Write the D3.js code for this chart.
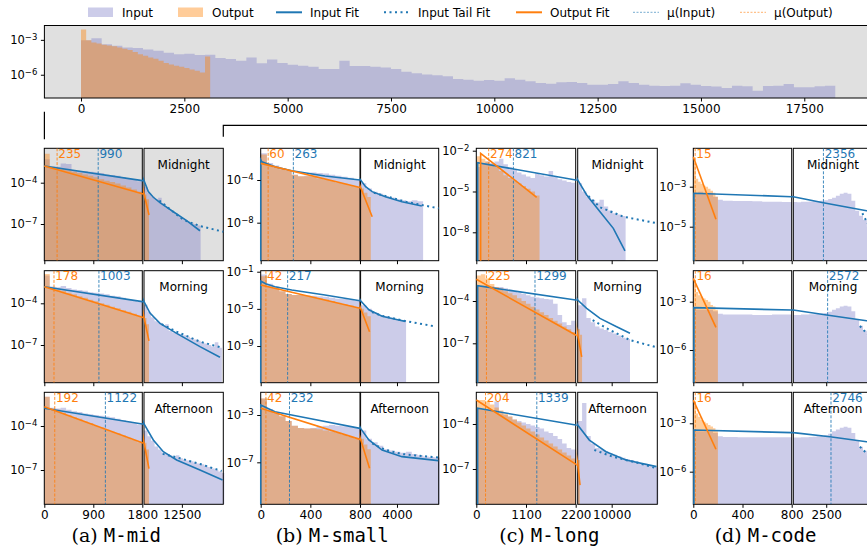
<!DOCTYPE html>
<html>
<head>
<meta charset="utf-8">
<script src="https://cdn.jsdelivr.net/npm/d3@7"></script>
<style>
  body { margin: 0; background: #fff; }
  svg text { font-family: "DejaVu Sans", sans-serif; }
</style>
</head>
<body>
<svg id="chart" width="867" height="550"></svg>
<script>
// ---- top panel: all requests (log10 density), input bins 250 wide, output bins 125 wide ----
const topIn = [-3.04,-2.87,-3.37,-3.51,-3.65,-3.71,-3.82,-3.94,-4.11,-4.23,
  -4.20,-4.31,-4.28,-4.57,-4.65,-4.80,-4.51,-5.02,-4.68,-5.00,
  -5.14,-5.22,-5.31,-5.51,-5.51,-4.80,-5.25,-5.25,-5.31,-5.37,
  -5.51,-5.74,-5.88,-5.99,-6.05,-6.14,-6.37,-6.42,-6.51,-6.45,
  -6.51,-6.31,-6.42,-6.57,-6.71,-6.77,-6.65,-6.62,-6.71,-6.85,
  -6.85,-6.80,-6.57,-6.71,-6.85,-6.94,-6.97,-6.94,-6.74,-6.85,
  -6.97,-7.02,-7.14,-6.94,-7.00,-7.37,-6.97,-6.94,-6.80,-7.08,
  -7.08,-7.00,-6.94];
const topOut = [-2.1,-3.04,-3.22,-3.31,-3.42,-3.48,-3.54,-3.65,-3.77,-3.88,
  -4.05,-4.23,-4.37,-4.51,-4.62,-4.80,-5.00,-5.11,-5.22,-5.31,
  -5.42,-5.54,-5.66,-5.80,-4.43];
const topTicks = [0, 2500, 5000, 7500, 10000, 12500, 15000, 17500];

// ---- columns / rows ----
const colTags = ["(a)", "(b)", "(c)", "(d)"];
const colNames = ["M-mid", "M-small", "M-long", "M-code"];
const rowNames = ["Midnight", "Morning", "Afternoon"];
const leftMax = [1800, 800, 2200, 800];
const rightMax = [24200, 7670, 20470, 4900];
const leftTicks = [[0, 900, 1800], [0, 400, 800], [0, 1100, 2200], [0, 400, 800]];
const rightTicks = [[12500], [4000], [10000], [2500]];
const binInL = [100, 50, 100, 40];
const binOutL = [100, 50, 100, 20];
const binInR = [1000, 500, 1000, 200];
const binOutR = [700, 300, 500, 200];

// ---- M-mid ----
const midY = [[-9.665, -1.502], [-9.712, -1.655], [-9.337, -1.703]];
const midYTicks = [[-4, -7], [-4, -7], [-4, -7]];
const midInL = [
  [-2.3,-2.85,-2.85,-2.6,-2.65,-3.1,-3.15,-3.15,-3.2,-3.25,-3.3,-3.4,-3.45,-3.5,-3.6,-3.7,-3.8,-3.9],
  [-2.0,-2.8,-2.85,-2.75,-2.9,-3.0,-3.05,-3.1,-3.2,-3.25,-3.3,-3.35,-3.45,-3.5,-3.6,-3.7,-3.8,-3.9],
  [-2.0,-2.75,-2.8,-2.75,-2.9,-3.0,-3.05,-3.15,-3.2,-3.25,-3.3,-3.35,-3.4,-3.5,-3.6,-3.7,-3.8,-3.9]];
const midOutL = [
  [-1.9,-2.85,-2.95,-3.0,-3.1,-3.2,-3.3,-3.4,-3.5,-3.6,-3.75,-3.85,-3.95,-4.05,-4.2,-4.35,-4.5,-4.65],
  [-1.9,-2.9,-3.0,-3.1,-3.25,-3.35,-3.5,-3.6,-3.75,-3.85,-4.0,-4.1,-4.25,-4.35,-4.5,-4.6,-4.75,-4.9],
  [-2.0,-2.8,-2.9,-3.1,-3.25,-3.4,-3.5,-3.7,-3.8,-4.0,-4.1,-4.25,-4.4,-4.5,-4.65,-4.8,-4.95,-5.1]];
const midInR = [
  [-4.3,-4.75,-5.0,-5.2,-5.1,-5.5,-5.8,-6.0,-6.2,-6.35,-6.5,-6.65,-6.8,-6.9,-7.0,-7.1],
  [-4.1,-4.6,-5.0,-5.3,-5.4,-5.6,-5.5,-6.0,-6.1,-6.15,-6.2,-6.3,-6.4,-6.5,-6.6,-6.7,-6.8,-6.9,-7.0,-7.1,-6.8,-7.2],
  [-4.3,-4.7,-5.0,-5.4,-5.6,-5.8,-5.9,-6.0,-6.1,-6.0,-6.2,-6.3,-6.35,-6.4,-6.5,-6.55,-6.6,-6.7,-6.8,-6.9,-7.0,-7.1,-7.2]];
const midOutR = [[-4.85, -5.2], [-5.05, -5.5], [-5.15, -5.6]];
const midFitIn = [
  [[0,-2.79],[1800,-3.85],[3023,-4.65],[4435,-5.06],[6317,-5.45],[10081,-6.11],[13845,-6.75],[17610,-7.49]],
  [[0,-2.81],[1800,-3.88],[3500,-4.7],[6317,-5.44],[11022,-6.16],[17610,-7.12],[23255,-7.88]],
  [[0,-2.79],[1800,-3.86],[4435,-4.95],[7258,-5.75],[11022,-6.32],[17610,-7.0],[24000,-7.68]]];
const midTail = [
  [[6130,-5.3],[12900,-6.7],[17610,-7.15],[24200,-7.56]],
  [[6787,-5.5],[11022,-6.04],[17610,-6.76],[23725,-7.19]],
  [[7070,-5.9],[11963,-6.2],[17610,-6.59],[23725,-7.07]]];
const midFitOut = [
  [[0,-2.79],[1800,-4.8],[3212,-6.35]],
  [[0,-2.81],[1800,-5.01],[3200,-6.7]],
  [[0,-2.68],[1800,-5.14],[3200,-6.9]]];
const midMuIn = [990, 1003, 1122];
const midMuOut = [235, 178, 192];

// ---- M-small ----
const smallY = [[-11.563, -1.029], [-12.948, -0.892], [-10.549, -1.081]];
const smallYTicks = [[-4, -8], [-1, -5, -9], [-3, -7]];
const smallInL = [
  [-1.5,-2.4,-2.65,-2.9,-3.1,-3.5,-3.65,-3.6,-3.3,-3.35,-3.4,-3.5,-3.6,-3.7,-3.8,-3.95],
  [-1.3,-2.3,-2.6,-3.1,-3.4,-3.5,-3.5,-3.55,-3.6,-3.65,-3.7,-3.8,-3.9,-3.95,-4.0,-4.1],
  [-1.6,-2.5,-2.8,-3.1,-3.5,-3.9,-4.1,-4.15,-4.1,-4.0,-3.9,-3.85,-3.9,-3.95,-4.0,-4.1]];
const smallOutL = [
  [-1.6,-2.6,-2.85,-3.0,-3.15,-3.5,-3.65,-3.65,-3.7,-3.85,-3.95,-4.1,-4.25,-4.35,-4.5,-4.65],
  [-1.5,-2.6,-2.75,-3.1,-3.4,-3.5,-3.5,-3.6,-3.7,-3.85,-4.0,-4.15,-4.35,-4.5,-4.65,-4.8],
  [-1.6,-2.6,-2.85,-3.1,-3.5,-3.9,-4.1,-4.15,-4.15,-4.2,-4.3,-4.4,-4.5,-4.7,-4.85,-5.0]];
const smallInR = [
  [-4.3,-4.8,-5.1,-5.3,-5.5,-5.65,-5.8,-5.9,-6.0,-5.9,-6.0],
  [-4.6,-5.0,-5.4,-5.7,-5.8,-5.95,-6.1,-6.2],
  [-4.3,-5.0,-5.3,-5.6,-5.9,-6.0,-6.1,-6.2,-6.1,-6.3,-6.4,-6.5,-6.55,-6.6]];
const smallOutR = [[-4.8, -5.2, -5.6], [-5.0, -5.4, -5.8], [-5.0, -5.5, -5.9]];
const smallFitIn = [
  [[0,-20],[0,-2.1],[10,-2.3],[115,-2.75],[250,-3.13],[518,-3.63],[800,-4.0],[1237,-4.63],[1819,-5.09],[2983,-5.56],[4438,-6.03],[6184,-6.44]],
  [[0,-20],[0,-2.0],[40,-2.3],[115,-2.61],[250,-2.97],[518,-3.51],[800,-4.12],[1528,-5.1],[2692,-5.8],[4147,-6.2],[4730,-6.35]],
  [[0,-20],[0,-2.15],[115,-2.72],[384,-3.28],[800,-4.13],[1528,-5.11],[2692,-5.96],[4438,-6.52],[7640,-6.86]]];
const smallTail = [
  [[1964,-5.19],[4730,-6.03],[7670,-6.66]],
  [[1800,-5.35],[2692,-5.75],[4730,-6.3],[7400,-6.9]],
  [[1819,-5.4],[2983,-5.95],[4438,-6.3],[7640,-6.6]]];
const smallFitOut = [
  [[0,-2.44],[800,-4.7],[1819,-7.44]],
  [[0,-2.43],[800,-4.94],[1586,-7.46]],
  [[0,-2.43],[800,-5.06],[1586,-7.5]]];
const smallMuIn = [263, 217, 232];
const smallMuOut = [60, 42, 42];

// ---- M-long ----
const longY = [[-10.088, -1.824], [-9.794, -1.851], [-9.353, -1.887]];
const longYTicks = [[-2, -5, -8], [-4, -7], [-4, -7]];
const longInL = [
  [-3.2,-2.9,-2.8,-2.9,-2.8,-2.6,-3.0,-3.2,-3.4,-3.6,-3.75,-3.9,-4.0,-3.65,-3.8,-3.9,-3.5,-3.9,-4.1,-4.2,-4.3,-4.35],
  [-3.0,-2.9,-2.9,-2.95,-3.0,-3.0,-3.1,-3.2,-3.3,-3.4,-3.5,-3.6,-3.7,-3.75,-3.8,-3.85,-3.9,-4.2,-5.0,-5.5,-5.7,-5.4],
  [-3.0,-3.0,-3.1,-3.1,-2.5,-3.3,-3.4,-3.5,-3.7,-3.8,-3.9,-4.0,-4.1,-4.2,-4.3,-4.5,-4.6,-4.8,-5.0,-5.3,-5.6,-5.7]];
const longOutL = [
  [-2.4,-2.6,-2.8,-3.0,-3.2,-3.5,-3.8,-4.0,-4.2,-4.4,-4.6,-4.8,-5.0,-5.3],
  [-2.2,-2.1,-2.4,-2.8,-3.0,-3.1,-3.3,-3.45,-3.6,-3.8,-4.0,-4.2,-4.4,-4.6,-4.8,-5.0,-5.2,-5.4,-5.6,-5.8,-6.0,-6.2],
  [-2.4,-2.4,-2.5,-2.7,-2.9,-3.1,-3.3,-3.5,-3.7,-3.9,-4.1,-4.3,-4.5,-4.7,-4.9,-5.1,-5.3,-5.5,-5.7,-5.9,-6.1,-6.3]];
const longInR = [
  [-4.4,-5.0,-5.4,-5.6,-5.8,-5.6,-6.1,-6.4,-6.6,-6.7,-6.8],
  [-4.3,-3.8,-5.2,-5.5,-5.8,-5.95,-6.05,-6.2,-6.3,-6.45,-6.6,-6.7],
  [-3.8,-2.6,-4.8,-5.3,-5.6,-5.7,-5.8,-5.95,-6.05,-6.15,-6.25,-6.35,-6.4,-6.5,-6.6,-6.65,-6.75,-6.85,-6.9]];
const longOutR = [[], [-6.0, -6.4], [-6.4]];
const longFitIn = [
  [[30,-20],[30,-2.88],[2200,-4.15],[4263,-5.26],[7319,-6.49],[10375,-7.71],[13049,-9.37]],
  [[30,-20],[30,-2.92],[2200,-3.93],[4263,-4.52],[7319,-5.23],[11139,-5.82],[14195,-6.29]],
  [[30,-20],[30,-2.95],[2200,-4.07],[4875,-5.07],[8695,-5.85],[13279,-6.4],[20307,-6.84]]];
const longTail = [
  [[4645,-5.33],[7319,-6.16],[12667,-6.85],[20470,-7.34]],
  [[5638,-5.35],[8847,-5.94],[14195,-6.77],[20470,-7.3]],
  [[6021,-5.73],[10222,-6.18],[16334,-6.62],[20470,-6.97]]];
const longFitOut = [
  [[96,-20],[96,-2.19],[1336,-5.43]],
  [[0,-2.46],[2200,-6.41],[3117,-7.97]],
  [[0,-2.4],[2200,-6.67],[2735,-8.07]]];
const longMuIn = [821, 1299, 1339];
const longMuOut = [274, 225, 204];

// ---- M-code ----
const codeY = [[-6.7, -1.08], [-8.031, -1.075], [-8.022, -1.078]];
const codeYTicks = [[-3, -5], [-3, -6], [-3, -6]];
const codeInL = [
  [-3.3,-3.25,-3.3,-3.3,-3.5,-3.65,-3.7,-3.7,-3.72,-3.72,-3.72,-3.72,-3.73,-3.73,-3.75,-3.75,-3.75,-3.75,-3.76,-3.76],
  [-3.5,-3.5,-3.5,-3.5,-3.6,-3.75,-3.8,-3.8,-3.8,-3.8,-3.8,-3.8,-3.82,-3.82,-3.82,-3.82,-3.8,-3.8,-3.8,-3.8],
  [-3.5,-3.5,-3.5,-3.5,-3.6,-3.8,-3.85,-3.85,-3.85,-3.87,-3.87,-3.87,-3.87,-3.87,-3.87,-3.87,-3.86,-3.86,-3.86,-3.86]];
const codeOutL = [
  [-1.8,-2.6,-2.75,-2.85,-2.95,-3.0,-3.1,-3.2,-3.3,-3.5],
  [-1.7,-2.4,-2.6,-2.7,-2.8,-2.9,-3.0,-3.2,-3.3,-3.5],
  [-1.7,-2.4,-2.6,-2.8,-2.9,-3.0,-3.1,-3.2,-3.3,-3.5]];
const codeInR = [
  [-3.77,-3.78,-3.75,-3.75,-3.74,-3.72,-3.72,-3.7,-3.68,-3.62,-3.55,-3.45,-3.35,-3.3,-3.35,-3.7,-4.2,-4.45,-4.65,-5.0,-5.3],
  [-3.82,-3.82,-3.8,-3.8,-3.78,-3.78,-3.76,-3.74,-3.7,-3.62,-3.5,-3.4,-3.3,-3.25,-3.3,-3.6,-4.1,-4.5,-4.8,-5.1,-5.4],
  [-3.88,-3.88,-3.87,-3.86,-3.85,-3.83,-3.8,-3.78,-3.74,-3.65,-3.5,-3.38,-3.28,-3.22,-3.28,-3.6,-4.1,-4.45,-4.7,-5.0,-5.3]];
const codeOutR = [[], [], []];
const codeFitIn = [
  [[5,-20],[5,-3.33],[800,-3.5],[2348,-3.8],[4584,-4.2],[4900,-4.27]],
  [[5,-20],[5,-3.37],[800,-3.52],[2520,-3.83],[4584,-4.18],[4900,-4.24]],
  [[5,-20],[5,-3.42],[800,-3.58],[2692,-3.83],[4584,-4.14],[4900,-4.2]]];
const codeTail = [
  [[4366,-4.33],[4744,-5.03],[4950,-5.4]],
  [[4240,-4.51],[4584,-4.96],[4928,-5.38]],
  [[4240,-4.45],[4584,-4.86],[4928,-5.24]]];
const codeFitOut = [
  [[0,-1.5],[184,-4.63]],
  [[0,-1.55],[184,-4.59]],
  [[0,-1.56],[184,-4.61]]];
const codeMuIn = [2356, 2572, 2746];
const codeMuOut = [15, 16, 16];

const cols = [
  { y: midY, yt: midYTicks, inL: midInL, outL: midOutL, inR: midInR, outR: midOutR, fitIn: midFitIn, tail: midTail, fitOut: midFitOut, muIn: midMuIn, muOut: midMuOut },
  { y: smallY, yt: smallYTicks, inL: smallInL, outL: smallOutL, inR: smallInR, outR: smallOutR, fitIn: smallFitIn, tail: smallTail, fitOut: smallFitOut, muIn: smallMuIn, muOut: smallMuOut },
  { y: longY, yt: longYTicks, inL: longInL, outL: longOutL, inR: longInR, outR: longOutR, fitIn: longFitIn, tail: longTail, fitOut: longFitOut, muIn: longMuIn, muOut: longMuOut },
  { y: codeY, yt: codeYTicks, inL: codeInL, outL: codeOutL, inR: codeInR, outR: codeOutR, fitIn: codeFitIn, tail: codeTail, fitOut: codeFitOut, muIn: codeMuIn, muOut: codeMuOut }
];

// ---- styling ----
const BLUE = "#1f77b4", ORANGE = "#ff7f0e";
const IN_FILL = "rgb(128,128,200)", OUT_FILL = "#ff8000", FILL_OP = 0.4;
const GRAY = "#e0e0e0";
const FONT = "DejaVu Sans, sans-serif";

const svg = d3.select("#chart");
const pow = v => Math.pow(10, v);
let clipCount = 0;

function panel(x0, x1, y0, y1, xDom, yDom, bg) {
  const id = "clip" + (clipCount++);
  svg.append("clipPath").attr("id", id).append("rect")
    .attr("x", x0 - 1).attr("y", y0).attr("width", x1 - x0 + 2).attr("height", y1 - y0);
  const x = d3.scaleLinear().domain(xDom).range([x0, x1]);
  const y = d3.scaleLog().domain(yDom.map(pow)).range([y1, y0]);
  const g = svg.append("g");
  g.append("rect").attr("x", x0).attr("y", y0).attr("width", x1 - x0).attr("height", y1 - y0)
    .attr("fill", bg);
  const histG = g.append("g").attr("clip-path", `url(#${id})`);
  g.append("rect").attr("x", x0).attr("y", y0).attr("width", x1 - x0).attr("height", y1 - y0)
    .attr("fill", "none").attr("stroke", "#000").attr("stroke-width", 1);
  const lineG = g.append("g").attr("clip-path", `url(#${id})`);
  return { x, y, g, histG, lineG, x0, x1, y0, y1 };
}

function hist(p, start, w, vals, fill) {
  if (!vals.length) return;
  const pts = vals.map((v, i) => [start + i * w, v]);
  pts.push([start + vals.length * w, vals[vals.length - 1]]);
  const area = d3.area().curve(d3.curveStepAfter)
    .x(d => p.x(d[0])).y0(p.y1).y1(d => p.y(pow(d[1])));
  p.histG.append("path").attr("d", area(pts))
    .attr("fill", fill).attr("fill-opacity", FILL_OP);
}

function line(p, pts, color, width, dash) {
  const gen = d3.line().x(d => p.x(d[0])).y(d => p.y(pow(d[1])));
  p.lineG.append("path").attr("d", gen(pts)).attr("fill", "none")
    .attr("stroke", color).attr("stroke-width", width)
    .attr("stroke-dasharray", dash || null);
}

function muLine(p, v, color) {
  p.lineG.append("line").attr("x1", p.x(v)).attr("x2", p.x(v)).attr("y1", p.y0).attr("y2", p.y1)
    .attr("stroke", color).attr("stroke-width", 1).attr("stroke-dasharray", "3,1.6")
    .attr("opacity", 0.85);
}

function yAxis(p, exps) {
  const ax = p.g.append("g").attr("transform", `translate(${p.x0},0)`)
    .call(d3.axisLeft(p.y).tickValues(exps.map(pow)).tickSize(3.5).tickPadding(3.5).tickFormat(() => ""));
  ax.select(".domain").remove();
  ax.selectAll(".tick text").attr("font-family", FONT).attr("font-size", 11.5).attr("fill", "#000")
    .each(function(d) {
      const t = d3.select(this);
      t.append("tspan").text("10");
      t.append("tspan").attr("dy", "-0.5em").attr("font-size", "8.5px")
        .text("\u2212" + Math.round(-Math.log10(d)));
    });
}

function xAxis(p, ticks, showLabels) {
  const ax = p.g.append("g").attr("transform", `translate(0,${p.y1})`)
    .call(d3.axisBottom(p.x).tickValues(ticks).tickSize(3.5).tickPadding(3)
      .tickFormat(showLabels ? d3.format("d") : () => ""));
  ax.select(".domain").remove();
  ax.selectAll(".tick text").attr("font-family", FONT).attr("font-size", 12).attr("fill", "#000");
}

// ---- legend ----
const legendLabels = ["Input", "Output", "Input Fit", "Input Tail Fit", "Output Fit", "\u03bc(Input)", "\u03bc(Output)"];
const legendX = [88, 178, 276, 384, 516, 633, 740];
legendLabels.forEach((lab, i) => {
  const lx = legendX[i];
  const lg = svg.append("g");
  if (i < 2) {
    lg.append("rect").attr("x", lx).attr("y", 7.5).attr("width", 25).attr("height", 9.5)
      .attr("fill", i === 0 ? IN_FILL : OUT_FILL).attr("fill-opacity", FILL_OP);
  } else {
    const color = (i === 4 || i === 6) ? ORANGE : BLUE;
    const ln = lg.append("line").attr("x1", lx).attr("x2", lx + 26).attr("y1", 12.3).attr("y2", 12.3)
      .attr("stroke", color);
    if (i === 2 || i === 4) ln.attr("stroke-width", 2);
    if (i === 3) ln.attr("stroke-width", 2).attr("stroke-dasharray", "2,3.5");
    if (i >= 5) ln.attr("stroke-width", 1).attr("stroke-dasharray", "2,1.5").attr("opacity", 0.6);
  }
  lg.append("text").attr("x", lx + 34).attr("y", 16.5).attr("font-size", 12).text(lab);
});

// ---- top overview panel ----
const overview = panel(44.4, 880, 25.5, 98, [-886, 19332], [-8.0, -1.766], GRAY);
hist(overview, 0, 250, topIn, IN_FILL);
hist(overview, 0, 125, topOut, OUT_FILL);
yAxis(overview, [-3, -6]);
xAxis(overview, topTicks, true);

// zoom connector lines
svg.append("path").attr("d", d3.line()([[44.4, 111.7], [44.4, 139.3]]))
  .attr("stroke", "#000").attr("stroke-width", 1.2).attr("fill", "none");
svg.append("path").attr("d", d3.line()([[223.3, 136.7], [223.3, 125.3], [880, 125.3]]))
  .attr("stroke", "#000").attr("stroke-width", 1.2).attr("fill", "none");

// ---- small multiples ----
const colLeftX = [[44.3, 142.3], [260.7, 360], [476.3, 575.7], [693.3, 791.7]];
const colRightX = [[144, 223.3], [360.6, 438.7], [577.7, 657.3], [793.3, 872.7]];
const rowY = [[148.3, 260.7], [270.7, 382.7], [392.3, 504.3]];

cols.forEach((c, ci) => {
  rowNames.forEach((rname, ri) => {
    const [y0, y1] = rowY[ri];
    const bg = (ci === 0 && ri === 0) ? GRAY : "#fff";
    const L = panel(colLeftX[ci][0], colLeftX[ci][1], y0, y1, [0, leftMax[ci]], c.y[ri], bg);
    const R = panel(colRightX[ci][0], colRightX[ci][1], y0, y1, [leftMax[ci], rightMax[ci]], c.y[ri], bg);

    hist(L, 0, binInL[ci], c.inL[ri], IN_FILL);
    hist(L, 0, binOutL[ci], c.outL[ri], OUT_FILL);
    hist(R, leftMax[ci], binInR[ci], c.inR[ri], IN_FILL);
    hist(R, leftMax[ci], binOutR[ci], c.outR[ri], OUT_FILL);

    [L, R].forEach(p => {
      muLine(p, c.muOut[ri], ORANGE);
      muLine(p, c.muIn[ri], BLUE);
      line(p, c.fitIn[ri], BLUE, 1.6);
      line(p, c.tail[ri], BLUE, 2, "2,3.5");
      line(p, c.fitOut[ri], ORANGE, 1.6);
    });

    // mean labels
    [[c.muOut[ri], ORANGE], [c.muIn[ri], BLUE]].forEach(([mu, color]) => {
      const p = mu <= leftMax[ci] ? L : R;
      p.g.append("text").attr("x", p.x(mu) + 1.2).attr("y", y0 + 9.6)
        .attr("font-size", 12).attr("fill", color).text(mu);
    });

    R.g.append("text").attr("x", (R.x0 + R.x1) / 2).attr("y", y0 + 20.3)
      .attr("text-anchor", "middle").attr("font-size", 12).text(rname);

    yAxis(L, c.yt[ri]);
    xAxis(L, leftTicks[ci], ri === 2);
    xAxis(R, rightTicks[ci], ri === 2);
  });

  // caption
  const cx = (colLeftX[ci][0] + colRightX[ci][1]) / 2 - 17.5;
  const cap = svg.append("text").attr("x", cx).attr("y", 542).attr("text-anchor", "middle")
    .attr("font-size", 19);
  cap.append("tspan").attr("font-family", "DejaVu Serif, serif").text(colTags[ci] + " ");
  cap.append("tspan").attr("font-family", "DejaVu Sans Mono, monospace").text(colNames[ci]);
});
</script>
</body>
</html>
